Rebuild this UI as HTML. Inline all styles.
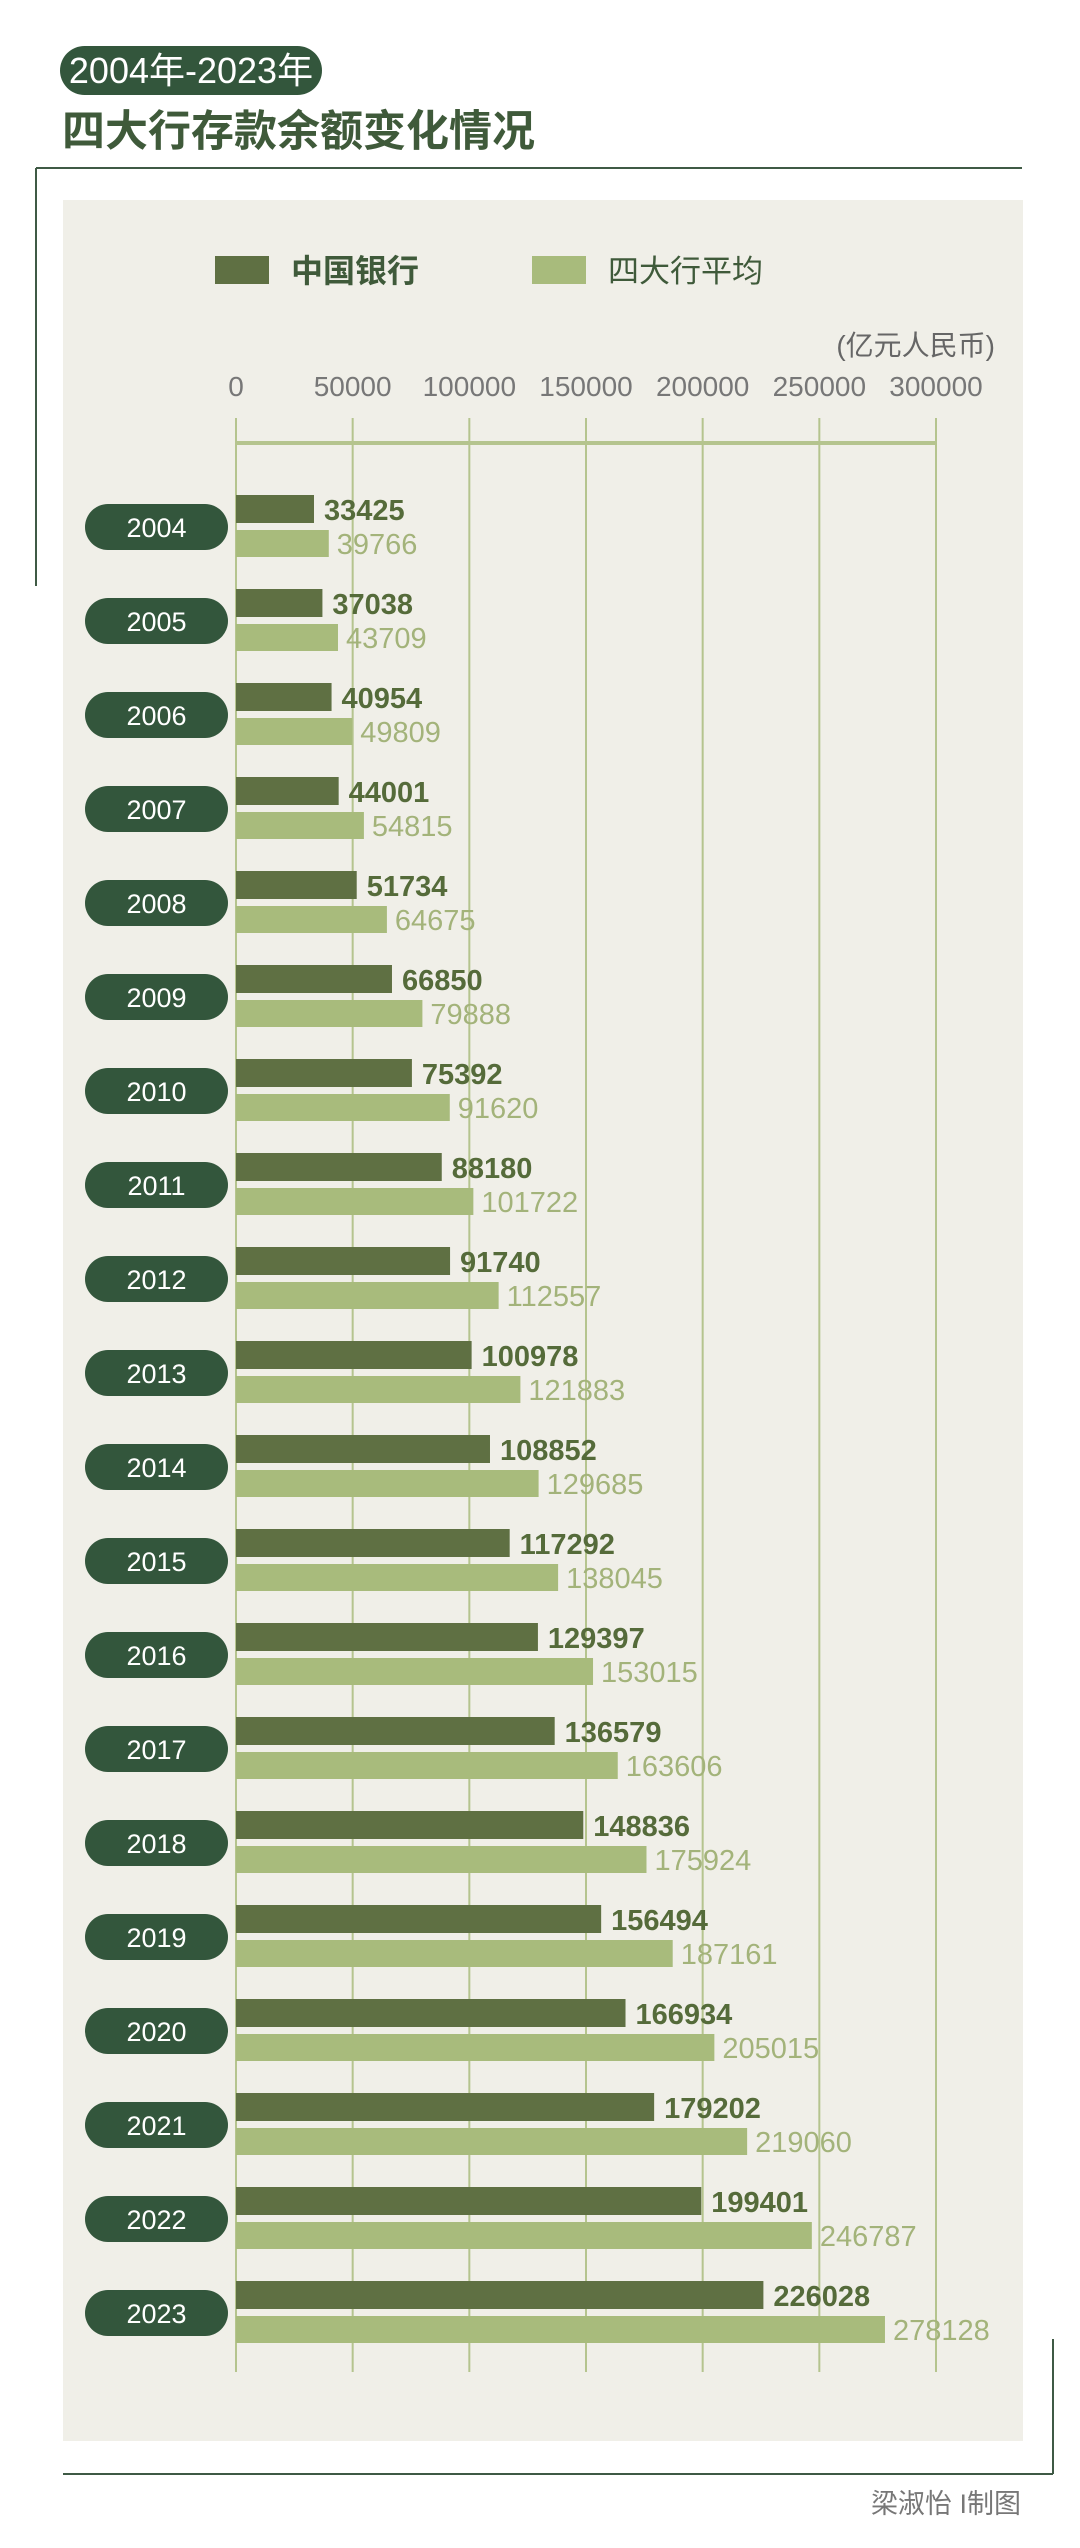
<!DOCTYPE html>
<html><head><meta charset="utf-8">
<style>
html,body{margin:0;padding:0;background:#fff;}
body{width:1080px;height:2548px;position:relative;overflow:hidden;font-family:"Liberation Sans","Noto Sans CJK SC",sans-serif;}
</style></head>
<body>
<svg id="chart" width="1080" height="2548" viewBox="0 0 1080 2548" xmlns="http://www.w3.org/2000/svg" style="position:absolute;left:0;top:0">
  <rect x="60" y="46" width="262" height="49" rx="24.5" fill="#33563c"/>
  <text x="191" y="83" text-anchor="middle" font-size="36" fill="#fff" font-family="Liberation Sans, Noto Sans CJK SC, sans-serif">2004年-2023年</text>
  <text x="62" y="146" font-size="43" font-weight="bold" fill="#3f5a3a" font-family="Liberation Sans, Noto Sans CJK SC, sans-serif">四大行存款余额变化情况</text>
  <line x1="36" y1="168" x2="1022" y2="168" stroke="#3f5a45" stroke-width="2"/>
  <line x1="36" y1="168" x2="36" y2="586" stroke="#3f5a45" stroke-width="2"/>
  <rect x="63" y="200" width="960" height="2241" fill="#f0efe8"/>
  <line x1="1053" y1="2339" x2="1053" y2="2474" stroke="#3f5a45" stroke-width="2"/>
  <line x1="63" y1="2474" x2="1053" y2="2474" stroke="#3f5a45" stroke-width="2"/>
  <text x="1021" y="2513" text-anchor="end" font-size="27" fill="#777">梁淑怡 I制图</text>

  <rect x="215" y="256" width="54" height="28" fill="#5f7043"/>
  <text x="291" y="282" font-size="32" font-weight="bold" fill="#3f5a3a">中国银行</text>
  <rect x="532" y="256" width="54" height="28" fill="#a8bb7c"/>
  <text x="608" y="282" font-size="31" fill="#3f5a3a">四大行平均</text>
  <text x="995" y="355" text-anchor="end" font-size="28" fill="#666">(亿元人民币)</text>
  <g id="grid"></g>
  <g id="bars"></g>
</svg>
<script>
const years = [2004,2005,2006,2007,2008,2009,2010,2011,2012,2013,2014,2015,2016,2017,2018,2019,2020,2021,2022,2023];
const bocValues = [33425,37038,40954,44001,51734,66850,75392,88180,91740,100978,108852,117292,129397,136579,148836,156494,166934,179202,199401,226028];
const avgValues = [39766,43709,49809,54815,64675,79888,91620,101722,112557,121883,129685,138045,153015,163606,175924,187161,205015,219060,246787,278128];
const tickValues = [0,50000,100000,150000,200000,250000,300000];

const NS = "http://www.w3.org/2000/svg";
const x0 = 236, x1 = 936, maxV = 300000;
const xScale = v => x0 + (v / maxV) * (x1 - x0);
const rowTop = i => 495 + i * 94.0;

function mk(tag, attrs, parent){
  const e = document.createElementNS(NS, tag);
  for (const k in attrs) e.setAttribute(k, attrs[k]);
  parent.appendChild(e);
  return e;
}
const grid = document.getElementById('grid');
const bars = document.getElementById('bars');

tickValues.forEach(t => {
  const x = xScale(t);
  const gl = mk('line', {x1:x, y1:418, x2:x, y2:2372, stroke:'#b5c48e', 'stroke-width':2}, grid);
  
  
  const tl = mk('text', {x:x, y:396, 'text-anchor':'middle', 'font-size':28, fill:'#777'}, grid);
  
  
  tl.textContent = String(t);
});
const axis = mk('line', {x1:xScale(0), y1:443, x2:xScale(maxV), y2:443, stroke:'#b5c48e', 'stroke-width':4}, grid);



years.forEach((yr, i) => {
  const top = rowTop(i);
  const pill = mk('rect', {x:85, y:top+9, width:143, height:46, rx:23, fill:'#33563c'}, bars);
  
  
  const yl = mk('text', {x:156.5, y:top+42, 'text-anchor':'middle', 'font-size':27, fill:'#fff'}, bars);
  
  
  yl.textContent = String(yr);

  const bw = xScale(bocValues[i]) - x0;
  const b1 = mk('rect', {x:x0, y:top, width:bw, height:28, fill:'#5f7043'}, bars);
  
  
  const l1 = mk('text', {x:x0+bw+10, y:top+25, 'font-size':29, 'font-weight':'bold', fill:'#556b3a'}, bars);
  
  
  l1.textContent = String(bocValues[i]);

  const aw = xScale(avgValues[i]) - x0;
  const b2 = mk('rect', {x:x0, y:top+35, width:aw, height:27, fill:'#a8bb7c'}, bars);
  
  
  const l2 = mk('text', {x:x0+aw+8, y:top+59, 'font-size':29, fill:'#a3b37a'}, bars);
  
  
  l2.textContent = String(avgValues[i]);
});
</script>
</body></html>
